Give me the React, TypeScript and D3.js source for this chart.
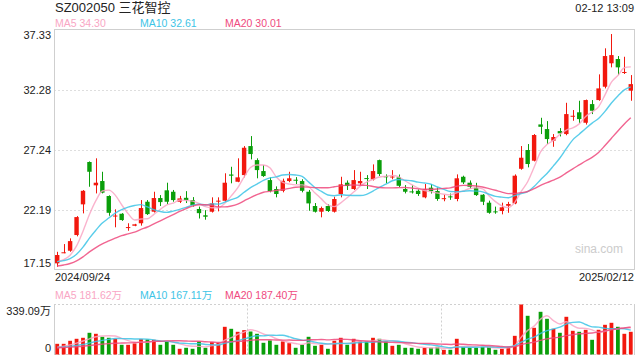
import React from "react";
import * as d3 from "d3";

// ---- data ----
const open = [17.71,18.58,18.77,20.09,22.67,26.23,24.27,24.63,23.37,21.68,21.88,20.70,20.87,21.08,22.89,22.05,23.20,23.85,23.73,22.89,23.22,23.03,22.28,21.75,22.05,22.90,22.97,25.18,24.57,25.13,27.57,26.39,25.47,24.71,23.96,23.81,24.63,24.74,24.63,23.73,22.53,22.05,22.53,22.05,23.54,24.49,23.96,24.44,24.88,24.77,26.39,25.03,24.96,24.94,23.96,23.76,23.81,23.26,24.07,23.79,23.14,23.34,23.12,24.99,24.49,24.07,23.48,22.81,22.08,22.11,22.55,22.75,25.66,27.24,26.34,29.39,29.00,28.02,28.83,28.58,30.06,30.41,29.53,31.10,31.44,32.56,34.53,34.89,33.73,32.23];
const high = [18.68,19.33,19.81,21.68,23.87,26.28,26.54,25.41,23.43,22.25,21.93,21.08,21.03,23.03,23.03,23.73,23.45,24.49,23.88,23.38,23.78,23.28,22.48,22.18,23.26,23.26,25.28,25.83,26.54,27.57,28.41,26.54,25.97,24.93,24.18,24.83,25.41,24.96,24.78,23.88,22.78,22.48,22.68,23.31,24.99,24.68,25.55,25.41,25.13,26.03,26.43,25.19,25.55,25.18,24.29,24.28,23.93,24.38,24.38,24.08,23.48,23.58,25.19,25.08,24.68,24.48,23.53,22.98,22.48,22.81,22.88,25.19,27.57,27.74,28.58,29.95,29.67,28.58,29.08,31.21,30.60,31.38,31.48,31.44,33.60,35.79,36.99,35.14,35.08,33.54];
const low = [17.42,18.56,18.68,19.98,21.91,24.15,23.59,23.59,21.71,20.74,21.28,20.45,20.83,20.88,21.78,21.98,22.53,22.68,22.89,22.78,22.78,22.48,21.48,21.38,21.98,22.08,22.88,24.44,24.53,24.94,26.45,24.86,24.98,23.68,23.26,23.68,24.53,24.38,23.68,22.13,21.98,21.58,22.03,21.98,23.26,23.88,23.88,24.29,23.96,24.68,25.05,24.44,24.78,24.13,23.59,23.58,23.38,23.18,23.58,22.97,22.93,23.05,22.93,24.38,23.98,23.38,22.61,21.88,21.88,21.83,21.96,22.68,25.58,25.78,26.28,28.58,27.74,27.51,28.38,28.48,29.70,29.48,29.38,30.26,31.38,32.42,34.19,33.54,33.63,31.38];
const close = [18.41,18.64,19.58,21.60,23.81,25.41,24.49,23.65,21.96,21.73,21.35,20.76,20.99,22.36,21.85,23.20,22.86,22.89,23.03,23.17,23.03,22.61,21.93,21.63,22.75,22.98,24.49,25.08,24.94,27.43,26.90,25.55,25.05,23.79,23.54,24.65,24.86,24.68,23.81,22.75,22.05,22.36,22.11,23.12,24.35,24.21,24.71,24.63,24.83,25.47,25.22,24.98,25.01,24.23,23.73,23.70,23.54,23.96,23.79,23.12,23.19,23.28,24.86,24.52,24.15,23.45,22.89,21.96,22.03,22.42,22.70,25.08,26.59,26.06,28.50,29.19,28.16,28.33,28.64,30.26,30.12,29.84,31.44,30.54,32.42,35.14,35.22,34.19,33.80,32.78];
// volume, in 万
const volume = [72.4,72.4,92.9,106.5,113.3,147.2,140.4,120.0,113.3,106.5,65.8,65.8,74.8,104.2,102.0,99.7,65.8,90.6,65.8,38.7,45.4,38.7,88.4,45.4,83.9,80.0,187.8,174.3,153.9,165.2,156.0,140.4,79.3,95.2,65.8,88.4,77.1,45.4,65.8,120.0,59.0,65.8,38.7,92.9,113.3,65.8,106.5,88.4,88.4,113.3,106.5,88.4,59.0,65.8,45.4,45.4,38.7,45.4,45.4,52.0,31.9,31.9,106.5,52.0,45.4,45.4,52.0,52.0,31.9,38.7,52.0,126.6,339.09,262.5,181.1,289.6,242.1,174.3,147.2,255.7,160.7,153.9,167.5,99.7,167.5,201.4,215.0,187.8,140.4,153.9];
// estimated history before the window (for the moving averages' warm-up)
const priorCloses = [17.0,17.1,17.2,17.1,17.0,17.2,17.3,17.1,17.2,17.1,17.8,17.9,17.9,17.8,17.86,17.8,17.7,17.7,17.64];
const priorVolumes = [43,46,44,45,47,42,44,46,45,43,44,46,47,45,44,43,45,46,44];

const priceTicks = [37.33, 32.28, 27.24, 22.19, 17.15];
const priceTickLabels = ["37.33", "32.28", "27.24", "22.19", "17.15"];
const volTickLabels = ["339.09万", "0"];
const volMax = 339.09;
const dateLabels = ["2024/09/24", "2025/02/12"];
const title = "SZ002050 三花智控";
const timeLabel = "02-12 13:09";
const priceLegend = ["MA5 34.30", "MA10 32.61", "MA20 30.01"];
const volLegend = ["MA5 181.62万", "MA10 167.11万", "MA20 187.40万"];
const maPeriods = [5, 10, 20];

const UP = "#f2180e";
const DOWN = "#0a9e0a";
const MA_COLORS = ["#f9a6c4", "#3dc4e6", "#ef4a7e"];
const FONT = "'Liberation Sans', Arial, 'Noto Sans CJK SC', sans-serif";

function movingAvg(prior: number[], vals: number[], k: number): number[] {
  const all = prior.concat(vals);
  const off = prior.length;
  return vals.map((_, i) => d3.mean(all.slice(i + off - k + 1, i + off + 1)) as number);
}

export default function App() {
  const N = close.length;
  const L = 54, R = 634, T = 30, B = 270;
  const VT = 304.5, VB = 354.5;
  const x = d3.scaleBand<number>().domain(d3.range(N)).range([L, R]).padding(0);
  const cx = (i: number) => (x(i) as number) + x.bandwidth() / 2;
  const y = d3.scaleLinear().domain([17.15, 37.33]).range([B, T]);
  const yv = d3.scaleLinear().domain([0, volMax]).range([VB, VT]);
  const bw = 4.4;

  const priceMA = maPeriods.map((k) => movingAvg(priorCloses, close, k));
  const volMA = maPeriods.map((k) => movingAvg(priorVolumes, volume, k));
  const line = d3.line<number>().x((_, i) => cx(i)).y((d) => y(d)).curve(d3.curveMonotoneX);
  const vline = d3.line<number>().x((_, i) => cx(i)).y((d) => yv(d)).curve(d3.curveMonotoneX);

  const isUp = (i: number) => close[i] >= open[i];
  const legendX = [55, 140, 225];

  return (
    <div style={{ position: "absolute", left: 0, top: 0 }}>
      <svg width={640} height={360} style={{ display: "block", background: "#fff" }} fontFamily={FONT}>
        <text x={55} y={12} fontSize={13} fill="#222">{title}</text>
        <text x={634} y={11.5} fontSize={11} fill="#222" textAnchor="end">{timeLabel}</text>
        {priceLegend.map((t, k) => (
          <text key={t} x={legendX[k]} y={27} fontSize={10.5} fill={MA_COLORS[k]}>{t}</text>
        ))}

        {/* price grid */}
        {priceTicks.slice(1, -1).map((v) => (
          <line key={v} x1={L} x2={R} y1={Math.round(y(v)) + 0.5} y2={Math.round(y(v)) + 0.5}
            stroke="#dedede" strokeDasharray="2,2" />
        ))}
        <rect x={L + 0.5} y={T - 0.5} width={R - L} height={B - T} fill="none" stroke="#cfcfcf" />
        {priceTicks.map((v, k) => {
          const yy = k === 0 ? y(v) + 8.5 : k === priceTicks.length - 1 ? y(v) - 2.7 : y(v) + 3.5;
          return (
            <text key={v} x={51} y={yy} fontSize={11} fill="#222" textAnchor="end">{priceTickLabels[k]}</text>
          );
        })}
        <text x={623} y={253} fontSize={12} fill="#cccccc" textAnchor="end">sina.com</text>

        {/* candles */}
        {close.map((c, i) => {
          const col = isUp(i) ? UP : DOWN;
          const top = y(Math.max(open[i], c));
          const bot = y(Math.min(open[i], c));
          return (
            <g key={i}>
              <line x1={Math.round(cx(i)) + 0.5} x2={Math.round(cx(i)) + 0.5} y1={y(high[i])} y2={y(low[i])} stroke={col} strokeWidth={1} />
              <rect x={cx(i) - bw / 2} y={top} width={bw} height={Math.max(1, bot - top)} fill={col} />
            </g>
          );
        })}
        {priceMA.map((m, k) => (
          <path key={k} d={line(m) as string} fill="none" stroke={MA_COLORS[k]} strokeWidth={1.4} strokeOpacity={0.85} />
        ))}

        {/* x labels */}
        <text x={55} y={281} fontSize={11} fill="#222">{dateLabels[0]}</text>
        <text x={634} y={281} fontSize={11} fill="#222" textAnchor="end">{dateLabels[1]}</text>

        {/* volume */}
        {volLegend.map((t, k) => (
          <text key={t} x={legendX[k]} y={298.5} fontSize={10.5} fill={MA_COLORS[k]}>{t}</text>
        ))}
        <line x1={L} x2={R + 1} y1={VT} y2={VT} stroke="#d0d0d0" strokeDasharray="2,2" />
        <line x1={L} x2={R + 1} y1={VB} y2={VB} stroke="#d0d0d0" strokeDasharray="2,2" />
        <line x1={L + 0.5} x2={L + 0.5} y1={VT} y2={VB} stroke="#cfcfcf" />
        <line x1={R + 0.5} x2={R + 0.5} y1={VT} y2={VB} stroke="#cfcfcf" />
        {[1, 2].map((k) => {
          const xx = Math.round(L + ((R - L) * k) / 3) + 0.5;
          return <line key={k} x1={xx} x2={xx} y1={VT} y2={VB} stroke="#d0d0d0" strokeDasharray="2,2" />;
        })}
        <text x={51} y={314.5} fontSize={11} fill="#222" textAnchor="end">{volTickLabels[0]}</text>
        <text x={51} y={351.5} fontSize={11} fill="#222" textAnchor="end">{volTickLabels[1]}</text>
        {volume.map((v, i) => (
          <rect key={i} x={cx(i) - 1.9} y={yv(v)} width={3.8} height={VB - yv(v)} fill={isUp(i) ? UP : DOWN} />
        ))}
        {volMA.map((m, k) => (
          <path key={k} d={vline(m) as string} fill="none" stroke={MA_COLORS[k]} strokeWidth={1.4} strokeOpacity={0.85} />
        ))}
      </svg>
    </div>
  );
}
